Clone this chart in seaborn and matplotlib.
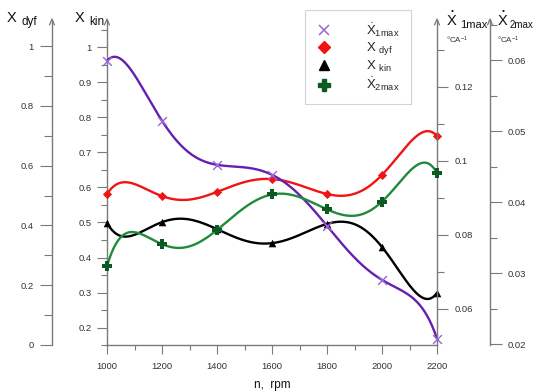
import numpy as np
import pandas as pd
import matplotlib
matplotlib.use('Agg')
import matplotlib.pyplot as plt
import seaborn as sns
from matplotlib.lines import Line2D
from matplotlib.ticker import FixedLocator, FuncFormatter

# ---- data ----
rpm = [1000, 1200, 1400, 1600, 1800, 2000, 2200]
x1max = [0.1270, 0.1108, 0.0989, 0.0962, 0.0824, 0.0678, 0.0519]   # right axis, °CA^-1
x_dyf = [0.505, 0.498, 0.512, 0.555, 0.505, 0.569, 0.699]           # far-left axis
x_kin = [0.499, 0.501, 0.481, 0.441, 0.496, 0.430, 0.299]           # left axis
x2max = [0.0310, 0.0341, 0.0361, 0.0411, 0.0390, 0.0401, 0.0441]    # far-right axis, °CA^-1

x_ticks = [1000, 1200, 1400, 1600, 1800, 2000, 2200]
kin_ticks = [0.2, 0.3, 0.4, 0.5, 0.6, 0.7, 0.8, 0.9, 1.0]
dyf_ticks = [0, 0.2, 0.4, 0.6, 0.8, 1.0]
x1_ticks = [0.06, 0.08, 0.10, 0.12]
x2_ticks = [0.02, 0.03, 0.04, 0.05, 0.06]

sns.set_theme(style='white')
plt.rcParams['font.family'] = ['Liberation Sans', 'DejaVu Sans']
plt.rcParams['mathtext.fontset'] = 'custom'
plt.rcParams['mathtext.rm'] = 'Liberation Sans'
plt.rcParams['mathtext.it'] = 'Liberation Sans'
plt.rcParams['mathtext.default'] = 'regular'

W, H = 535, 392
fig = plt.figure(figsize=(W / 100, H / 100), dpi=100)
L, R, B, T = 107, 437, 345, 20
ax = fig.add_axes([L / W, 1 - B / H, (R - L) / W, (B - T) / H])
ax.patch.set_alpha(0)

ax_dyf = ax.twinx()
ax_1 = ax.twinx()
ax_2 = ax.twinx()

SP = '#7a7a7a'
TXT = '#333333'
TFS = 6.8

purple, purple_m = '#6420B0', '#9a66d6'
red = '#f01414'
green, green_m = '#1f8a3c', '#0c5a22'


def smooth(xv, yv):
    p = np.polynomial.Polynomial.fit(np.asarray(xv, float), np.asarray(yv, float), len(xv) - 1)
    xs = np.linspace(xv[0], xv[-1], 400)
    return pd.DataFrame({'n': xs, 'v': p(xs)})


def gfmt(v, pos):
    return ('%g' % round(v, 4))


# curves
for a, vals, col, mcol, mk, ms, mlw in [
    (ax_1, x1max, purple, purple_m, 'x', 40, 1.0),
    (ax_dyf, x_dyf, red, red, 'D', 22, 0),
    (ax, x_kin, 'black', 'black', '^', 30, 0),
    (ax_2, x2max, green, green_m, 'P', 45, 0),
]:
    df = smooth(rpm, vals)
    sns.lineplot(data=df, x='n', y='v', ax=a, color=col, lw=1.7, sort=False, legend=False)
    pts = pd.DataFrame({'n': rpm, 'v': vals})
    sns.scatterplot(data=pts, x='n', y='v', ax=a, marker=mk, s=ms, color=mcol,
                    linewidth=mlw, edgecolor=None if mk != 'x' else mcol, legend=False, zorder=5)
for a in (ax, ax_dyf, ax_1, ax_2):
    for c in a.collections:
        c.set_clip_on(False)
    for l in a.lines:
        l.set_clip_on(False)
    a.set_xlabel('')
    a.set_ylabel('')

ax.set_xlim(1000, 2200)

# y limits from the pixel geometry
ax.set_ylim(0.15, 0.15 + (B - T) / 350)
ax_dyf.set_ylim(0, (B - T) / 299)
ax_1.set_ylim(0.0502, 0.0502 + (B - T) / 3700)
ax_2.set_ylim(0.0199, 0.0199 + (B - T) / 7100)

# spines
for a in (ax, ax_dyf, ax_1, ax_2):
    for s in a.spines.values():
        s.set_visible(False)
        s.set_color(SP)
        s.set_linewidth(1.0)
ax.spines['left'].set_visible(True)
ax.spines['bottom'].set_visible(True)
ax_dyf.spines['left'].set_visible(True)
ax_dyf.spines['left'].set_position(('axes', -55 / (R - L)))
ax_dyf.yaxis.set_label_position('left')
ax_dyf.yaxis.set_ticks_position('left')
ax_1.spines['right'].set_visible(True)
ax_2.spines['right'].set_visible(True)
ax_2.spines['right'].set_position(('axes', 1 + 53 / (R - L)))

# ticks
ax.xaxis.set_major_locator(FixedLocator(x_ticks))
ax.xaxis.set_minor_locator(FixedLocator(np.arange(1100, 2200, 200)))
ax.tick_params(axis='x', which='major', direction='out', length=6.5, width=0.8, color=SP,
               labelsize=TFS, labelcolor=TXT, pad=5.5, bottom=True)
ax.tick_params(axis='x', which='minor', direction='out', length=3.5, width=0.8, color=SP, bottom=True)

ax.yaxis.set_major_locator(FixedLocator(kin_ticks))
ax.yaxis.set_minor_locator(FixedLocator(np.arange(0.15, 1.06, 0.1)))
ax.yaxis.set_major_formatter(FuncFormatter(gfmt))
ax.tick_params(axis='y', which='major', direction='out', length=7, width=0.8, color=SP,
               labelsize=TFS, labelcolor=TXT, pad=4, left=True)
ax.tick_params(axis='y', which='minor', direction='out', length=4.5, width=0.8, color=SP, left=True)

ax_dyf.yaxis.set_major_locator(FixedLocator(dyf_ticks))
ax_dyf.yaxis.set_minor_locator(FixedLocator([0.1, 0.3, 0.5, 0.7, 0.9]))
ax_dyf.yaxis.set_major_formatter(FuncFormatter(gfmt))
ax_dyf.tick_params(axis='y', which='major', direction='out', length=9, width=0.8, color=SP,
                   labelsize=TFS, labelcolor=TXT, pad=4, left=True, right=False,
                   labelleft=True, labelright=False)
ax_dyf.tick_params(axis='y', which='minor', direction='out', length=6, width=0.8, color=SP,
                   left=True, right=False)

ax_1.yaxis.set_major_locator(FixedLocator(x1_ticks))
ax_1.yaxis.set_minor_locator(FixedLocator([0.07, 0.09, 0.11, 0.13]))
ax_1.yaxis.set_major_formatter(FuncFormatter(gfmt))
ax_1.tick_params(axis='y', which='major', direction='out', length=8, width=0.8, color=SP,
                 labelsize=TFS, labelcolor=TXT, pad=5, right=True)
ax_1.tick_params(axis='y', which='minor', direction='out', length=5, width=0.8, color=SP, right=True)

ax_2.yaxis.set_major_locator(FixedLocator(x2_ticks))
ax_2.yaxis.set_minor_locator(FixedLocator([0.025, 0.035, 0.045, 0.055, 0.065]))
ax_2.yaxis.set_major_formatter(FuncFormatter(gfmt))
ax_2.tick_params(axis='y', which='major', direction='out', length=8.5, width=0.8, color=SP,
                 labelsize=TFS, labelcolor=TXT, pad=4, right=True)
ax_2.tick_params(axis='y', which='minor', direction='out', length=5, width=0.8, color=SP, right=True)

for a in (ax_dyf, ax_1, ax_2):
    a.xaxis.set_visible(False)

# arrowheads on top of the vertical axes
for xp in (52, L, R, 490):
    fig.add_artist(Line2D([(xp - 2.5) / W, xp / W, (xp + 2.5) / W],
                          [1 - (T + 5) / H, 1 - (T - 1) / H, 1 - (T + 5) / H],
                          transform=fig.transFigure, color=SP, lw=0.9))

# axis titles
def title(xp, yp, sub, subdx=14, subfs=8.5, dot=False, unit=False):
    fig.text(xp / W, 1 - yp / H, 'X', fontsize=10.5, color='#111111', ha='left', va='baseline')
    if dot:
        fig.text((xp + 5) / W, 1 - (yp - 14) / H, '•', fontsize=6, color='#111111',
                 ha='center', va='center')
    fig.text((xp + subdx) / W, 1 - (yp + 3) / H, sub, fontsize=subfs, color='#111111',
             ha='left', va='baseline')
    if unit:
        fig.text((xp - 1) / W, 1 - (yp + 18) / H, '°CA$^{-1}$', fontsize=5.8, color=TXT,
                 ha='left', va='baseline')

title(7, 22, 'dyf')
title(75, 22, 'kin')
title(447, 25, '1max', subdx=13, subfs=8.0, dot=True, unit=True)
title(498, 25, '2max', subdx=12, subfs=7.0, dot=True, unit=True)

fig.text(272 / W, 1 - 388 / H, 'n,  rpm', fontsize=8.5, color='#111111', ha='center', va='baseline')

# legend
handles = [
    Line2D([], [], ls='none', marker='x', ms=7, mew=1.1, color=purple_m),
    Line2D([], [], ls='none', marker='D', ms=6, color=red),
    Line2D([], [], ls='none', marker='^', ms=7.5, color='black'),
    Line2D([], [], ls='none', marker='P', ms=8, color=green_m),
]
labels = [r'$\dot{\mathregular{X}}_{1max}$', r'X $_{dyf}$', r'X $_{kin}$', r'$\dot{\mathregular{X}}_{2max}$']
leg = fig.legend(handles, labels, loc='upper left', bbox_to_anchor=(305 / W, 1 - 10 / H),
                 frameon=True, fancybox=False, edgecolor='#c8c8c8', facecolor='white',
                 fontsize=9.5, handlelength=1.2, handletextpad=2.6, borderpad=0.85,
                 labelspacing=0.12, borderaxespad=0)
leg.get_frame().set_linewidth(0.8)

fig.savefig('out.png', dpi=100)
